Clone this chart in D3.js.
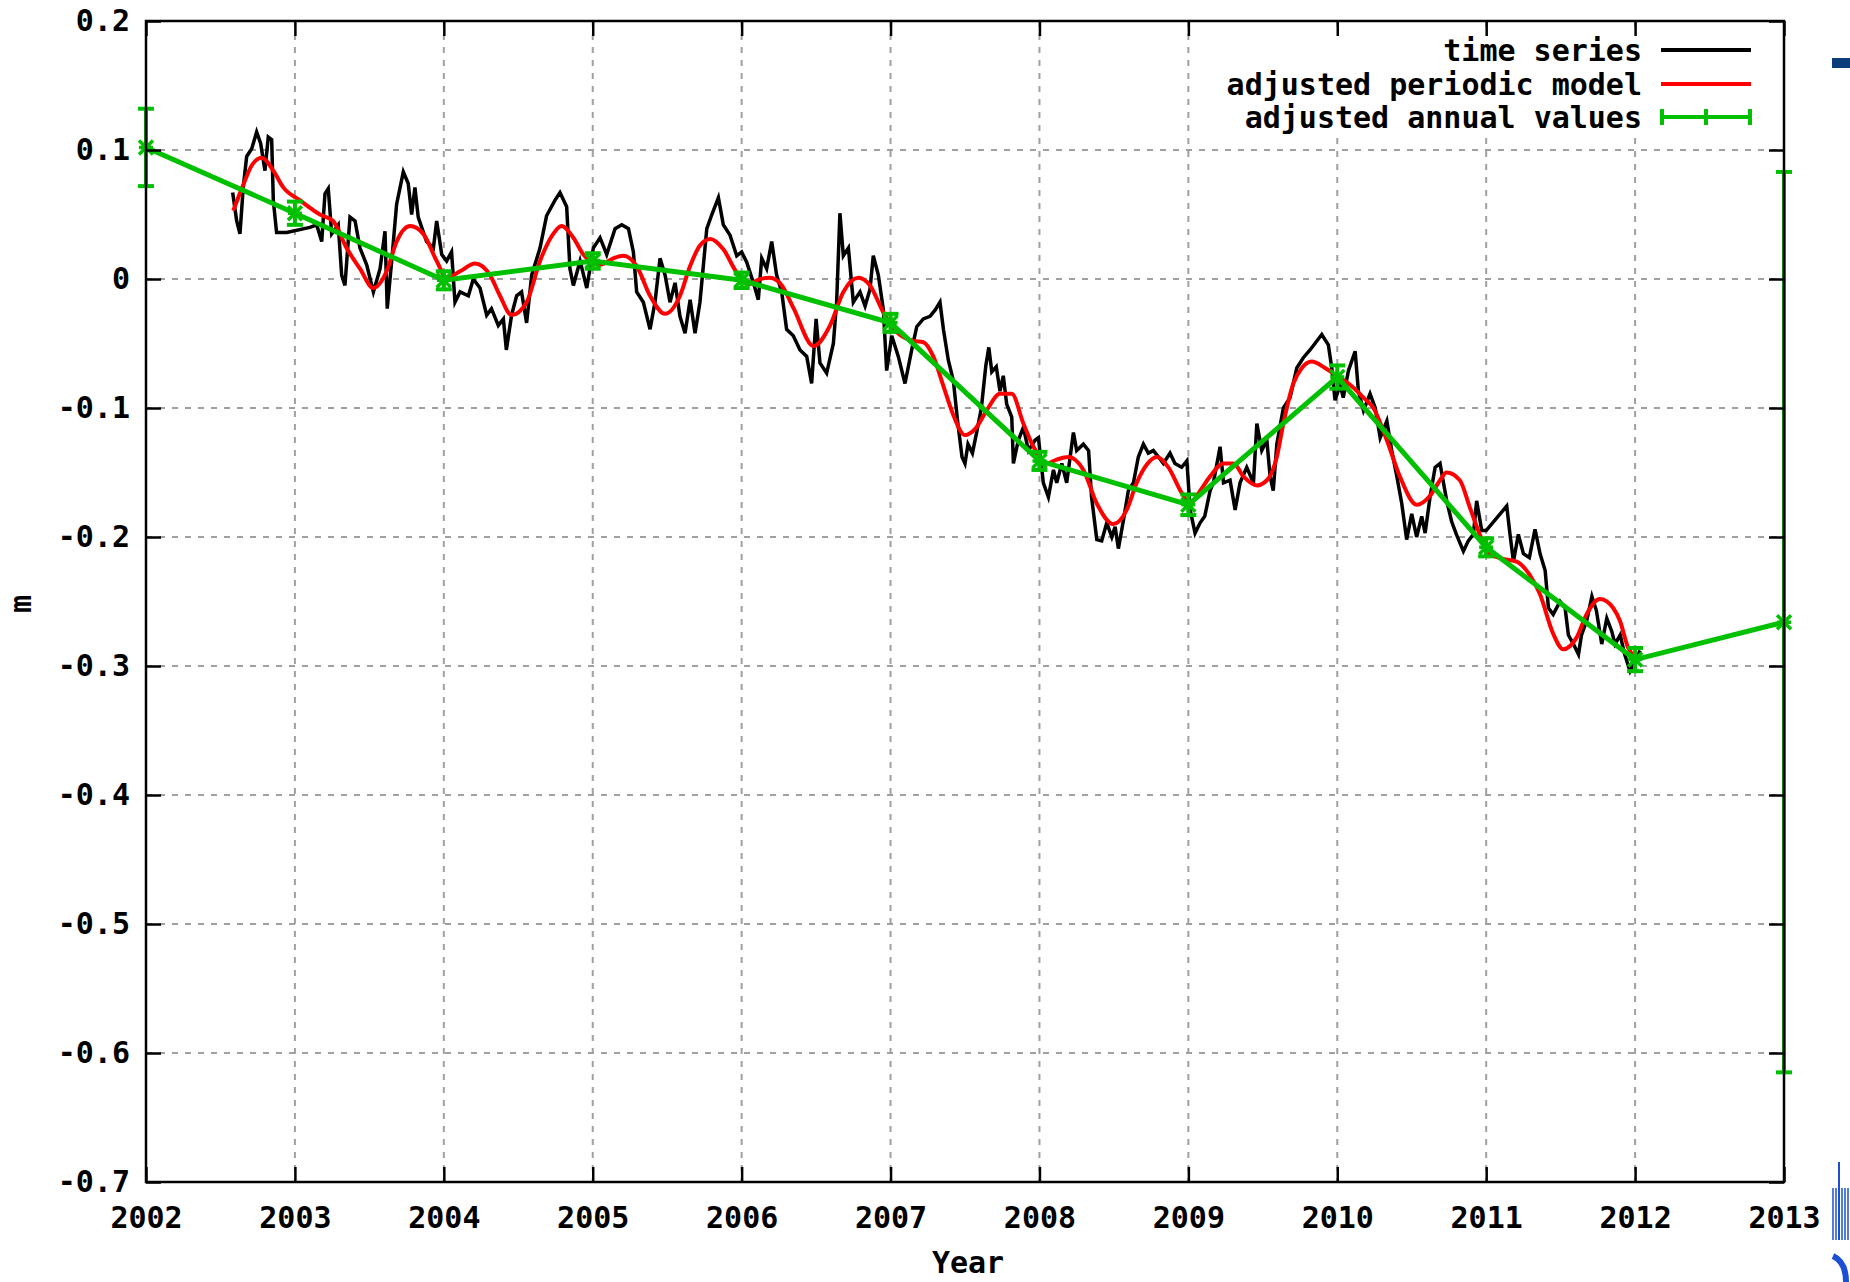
<!DOCTYPE html>
<html>
<head>
<meta charset="utf-8">
<script src="https://cdn.jsdelivr.net/npm/d3@7"></script>
<style>
  html, body { margin: 0; padding: 0; background: #fff; }
  svg { display: block; }
  text { font-family: "DejaVu Sans Mono", "Liberation Mono", monospace; font-weight: bold; font-size: 30px; fill: #000; }
</style>
</head>
<body>
<div id="chart"></div>
<script>
// raw time series [year, m]
const timeSeries = [
  [2002.582, 0.067], [2002.609, 0.045], [2002.631, 0.035], [2002.653, 0.071], [2002.676, 0.095],
  [2002.71, 0.101], [2002.743, 0.114], [2002.77, 0.105], [2002.799, 0.084], [2002.821, 0.110],
  [2002.844, 0.108], [2002.855, 0.061], [2002.877, 0.036], [2002.945, 0.036], [2003.101, 0.040],
  [2003.146, 0.042], [2003.18, 0.029], [2003.202, 0.066], [2003.224, 0.070], [2003.247, 0.035],
  [2003.291, 0.042], [2003.314, 0.003], [2003.336, -0.005], [2003.37, 0.048], [2003.404, 0.045],
  [2003.437, 0.024], [2003.482, 0.011], [2003.527, -0.010], [2003.572, 0.008], [2003.605, 0.037],
  [2003.62, -0.023], [2003.65, 0.014], [2003.683, 0.058], [2003.728, 0.083], [2003.761, 0.074],
  [2003.784, 0.050], [2003.806, 0.071], [2003.828, 0.048], [2003.884, 0.029], [2003.93, 0.024],
  [2003.952, 0.045], [2003.986, 0.019], [2004.019, 0.014], [2004.052, 0.021], [2004.075, -0.018],
  [2004.109, -0.010], [2004.165, -0.013], [2004.198, 0.000], [2004.243, -0.007], [2004.288, -0.028],
  [2004.32, -0.023], [2004.366, -0.036], [2004.4, -0.031], [2004.42, -0.055], [2004.455, -0.028],
  [2004.489, -0.013], [2004.522, -0.010], [2004.556, -0.034], [2004.59, 0.003], [2004.646, 0.024],
  [2004.69, 0.049], [2004.746, 0.061], [2004.78, 0.067], [2004.825, 0.056], [2004.847, 0.008],
  [2004.87, -0.005], [2004.915, 0.014], [2004.96, -0.007], [2005.004, 0.024], [2005.049, 0.032],
  [2005.094, 0.019], [2005.15, 0.039], [2005.195, 0.042], [2005.24, 0.039], [2005.273, 0.021],
  [2005.295, -0.010], [2005.34, -0.018], [2005.385, -0.039], [2005.418, -0.018], [2005.452, 0.016],
  [2005.486, 0.003], [2005.519, -0.018], [2005.553, -0.003], [2005.586, -0.029], [2005.62, -0.042],
  [2005.654, -0.016], [2005.687, -0.042], [2005.72, -0.018], [2005.766, 0.039], [2005.8, 0.050],
  [2005.844, 0.063], [2005.877, 0.042], [2005.922, 0.034], [2005.967, 0.018], [2006.0, 0.021],
  [2006.034, 0.013], [2006.079, -0.003], [2006.112, -0.016], [2006.135, 0.016], [2006.168, 0.008],
  [2006.202, 0.029], [2006.235, 0.003], [2006.269, -0.010], [2006.302, -0.039], [2006.347, -0.044],
  [2006.392, -0.055], [2006.437, -0.060], [2006.47, -0.081], [2006.5, -0.031], [2006.526, -0.065],
  [2006.571, -0.073], [2006.616, -0.050], [2006.638, -0.018], [2006.66, 0.051], [2006.683, 0.018],
  [2006.717, 0.024], [2006.75, -0.018], [2006.795, -0.010], [2006.829, -0.021], [2006.862, -0.008],
  [2006.884, 0.018], [2006.918, 0.003], [2006.952, -0.024], [2006.974, -0.071], [2007.008, -0.044],
  [2007.052, -0.060], [2007.097, -0.081], [2007.142, -0.055], [2007.176, -0.037], [2007.22, -0.031],
  [2007.265, -0.029], [2007.3, -0.024], [2007.332, -0.018], [2007.355, -0.039], [2007.388, -0.063],
  [2007.422, -0.079], [2007.45, -0.110], [2007.48, -0.138], [2007.50, -0.143], [2007.52, -0.128],
  [2007.55, -0.135], [2007.58, -0.118], [2007.61, -0.100], [2007.64, -0.067], [2007.66, -0.053],
  [2007.68, -0.072], [2007.71, -0.068], [2007.735, -0.087], [2007.757, -0.075], [2007.78, -0.097],
  [2007.814, -0.107], [2007.825, -0.143], [2007.858, -0.125], [2007.892, -0.115], [2007.926, -0.133],
  [2007.97, -0.125], [2007.993, -0.123], [2008.026, -0.158], [2008.06, -0.169], [2008.094, -0.148],
  [2008.116, -0.158], [2008.15, -0.143], [2008.183, -0.158], [2008.228, -0.119], [2008.25, -0.133],
  [2008.295, -0.128], [2008.33, -0.133], [2008.35, -0.169], [2008.385, -0.202], [2008.418, -0.203],
  [2008.452, -0.189], [2008.486, -0.200], [2008.508, -0.192], [2008.53, -0.209], [2008.564, -0.187],
  [2008.597, -0.164], [2008.631, -0.158], [2008.664, -0.138], [2008.698, -0.128], [2008.731, -0.135],
  [2008.765, -0.133], [2008.8, -0.138], [2008.832, -0.143], [2008.877, -0.135], [2008.91, -0.143],
  [2008.955, -0.146], [2008.99, -0.141], [2009.012, -0.179], [2009.045, -0.197], [2009.079, -0.189],
  [2009.11, -0.184], [2009.146, -0.164], [2009.168, -0.158], [2009.213, -0.130], [2009.236, -0.158],
  [2009.28, -0.156], [2009.314, -0.179], [2009.347, -0.158], [2009.392, -0.146], [2009.437, -0.158],
  [2009.46, -0.112], [2009.493, -0.133], [2009.527, -0.125], [2009.549, -0.153], [2009.57, -0.164],
  [2009.594, -0.128], [2009.638, -0.100], [2009.683, -0.092], [2009.728, -0.069], [2009.772, -0.061],
  [2009.817, -0.055], [2009.85, -0.050], [2009.896, -0.043], [2009.94, -0.051], [2009.963, -0.069],
  [2009.985, -0.094], [2010.02, -0.082], [2010.04, -0.092], [2010.075, -0.071], [2010.12, -0.056],
  [2010.142, -0.087], [2010.176, -0.102], [2010.22, -0.089], [2010.255, -0.100], [2010.288, -0.123],
  [2010.333, -0.110], [2010.366, -0.133], [2010.4, -0.153], [2010.433, -0.174], [2010.466, -0.202],
  [2010.5, -0.182], [2010.533, -0.200], [2010.567, -0.184], [2010.59, -0.197], [2010.623, -0.169],
  [2010.657, -0.146], [2010.69, -0.143], [2010.735, -0.172], [2010.768, -0.188], [2010.8, -0.198],
  [2010.847, -0.211], [2010.88, -0.203], [2010.914, -0.198], [2010.936, -0.172], [2010.97, -0.195],
  [2011.0, -0.195], [2011.138, -0.176], [2011.16, -0.198], [2011.183, -0.219], [2011.216, -0.198],
  [2011.25, -0.213], [2011.29, -0.216], [2011.328, -0.194], [2011.362, -0.213], [2011.396, -0.226],
  [2011.418, -0.255], [2011.45, -0.260], [2011.496, -0.250], [2011.53, -0.255], [2011.552, -0.276],
  [2011.586, -0.283], [2011.62, -0.291], [2011.64, -0.276], [2011.675, -0.265], [2011.71, -0.246],
  [2011.74, -0.257], [2011.776, -0.283], [2011.81, -0.263], [2011.843, -0.273], [2011.865, -0.283],
  [2011.9, -0.276], [2011.93, -0.291], [2011.966, -0.304], [2012.0, -0.296], [2012.034, -0.288]
];

// adjusted periodic model [year, m]
const periodicModel = [
  [2002.586, 0.053], [2002.65, 0.072], [2002.71, 0.088], [2002.777, 0.094], [2002.855, 0.084],
  [2002.922, 0.071], [2003.034, 0.061], [2003.168, 0.050], [2003.256, 0.045], [2003.347, 0.024],
  [2003.437, 0.008], [2003.526, -0.007], [2003.616, 0.006], [2003.683, 0.029], [2003.773, 0.041],
  [2003.862, 0.035], [2003.952, 0.014], [2004.019, 0.001], [2004.109, 0.006], [2004.21, 0.012],
  [2004.31, 0.003], [2004.377, -0.013], [2004.455, -0.028], [2004.556, -0.018], [2004.646, 0.014],
  [2004.735, 0.035], [2004.79, 0.041], [2004.87, 0.032], [2004.937, 0.019], [2005.049, 0.011],
  [2005.138, 0.016], [2005.205, 0.018], [2005.295, 0.010], [2005.385, -0.013], [2005.486, -0.027],
  [2005.586, -0.013], [2005.654, 0.010], [2005.72, 0.026], [2005.79, 0.031], [2005.877, 0.023],
  [2005.967, 0.005], [2006.045, -0.004], [2006.124, 0.000], [2006.19, 0.001], [2006.27, -0.005],
  [2006.35, -0.023], [2006.483, -0.052], [2006.594, -0.036], [2006.683, -0.010], [2006.784, 0.001],
  [2006.862, -0.005], [2006.952, -0.026], [2007.04, -0.041], [2007.153, -0.048], [2007.22, -0.049],
  [2007.287, -0.060], [2007.355, -0.083], [2007.42, -0.105], [2007.5, -0.121], [2007.57, -0.116],
  [2007.65, -0.101], [2007.735, -0.089], [2007.814, -0.089], [2007.892, -0.112], [2007.96, -0.130],
  [2008.05, -0.143], [2008.116, -0.140], [2008.194, -0.138], [2008.295, -0.148], [2008.385, -0.174],
  [2008.496, -0.190], [2008.586, -0.179], [2008.653, -0.158], [2008.72, -0.144], [2008.788, -0.138],
  [2008.866, -0.146], [2008.956, -0.166], [2009.012, -0.174], [2009.08, -0.164], [2009.146, -0.153],
  [2009.236, -0.143], [2009.303, -0.143], [2009.37, -0.153], [2009.46, -0.160], [2009.527, -0.156],
  [2009.594, -0.138], [2009.638, -0.112], [2009.705, -0.081], [2009.762, -0.069], [2009.829, -0.064],
  [2009.918, -0.069], [2010.008, -0.076], [2010.086, -0.082], [2010.176, -0.092], [2010.243, -0.100],
  [2010.333, -0.125], [2010.42, -0.153], [2010.533, -0.175], [2010.623, -0.168], [2010.69, -0.156],
  [2010.734, -0.150], [2010.823, -0.156], [2010.89, -0.177], [2010.957, -0.198], [2011.024, -0.213],
  [2011.114, -0.217], [2011.204, -0.219], [2011.29, -0.229], [2011.36, -0.244], [2011.45, -0.275],
  [2011.517, -0.287], [2011.607, -0.278], [2011.674, -0.260], [2011.764, -0.248], [2011.853, -0.255],
  [2011.898, -0.265], [2011.954, -0.286], [2011.99, -0.292]
];

// adjusted annual values with errors
const annualYears  = [2002, 2003, 2004, 2005, 2006, 2007, 2008, 2009, 2010, 2011, 2012, 2013];
const annualValues = [0.102, 0.051, -0.001, 0.014, -0.001, -0.034, -0.141, -0.175, -0.076, -0.208, -0.295, -0.266];
const annualErrors = [0.030, 0.009, 0.007, 0.006, 0.006, 0.007, 0.007, 0.008, 0.009, 0.007, 0.009, 0.349];

const xTicks = [2002, 2003, 2004, 2005, 2006, 2007, 2008, 2009, 2010, 2011, 2012, 2013];
const yTicks = [0.2, 0.1, 0, -0.1, -0.2, -0.3, -0.4, -0.5, -0.6, -0.7];
const legendLabels = ["time series", "adjusted periodic model", "adjusted annual values"];
const legendColors = ["#000000", "#ff0000", "#00c000"];

document.addEventListener("DOMContentLoaded", drawChart);

function drawChart() {
    const width = 1850;
    const height = 1282;
    const margin = { top: 21, right: 66, bottom: 100, left: 146 };
    const plotW = width - margin.left - margin.right;
    const plotH = height - margin.top - margin.bottom;

    const root = d3.select("#chart").append("svg")
        .attr("width", width)
        .attr("height", height);

    const svg = root.append("g")
        .attr("transform", `translate(${margin.left},${margin.top})`);

    const x = d3.scaleLinear().domain([2002, 2013]).range([0, plotW]);
    const y = d3.scaleLinear().domain([-0.7, 0.2]).range([plotH, 0]);

    // dashed grid
    const grid = svg.append("g")
        .attr("stroke", "#a0a0a0")
        .attr("stroke-width", 2)
        .attr("stroke-dasharray", "6,7");
    grid.selectAll(".gx").data(xTicks).enter().append("line")
        .attr("x1", d => x(d)).attr("x2", d => x(d))
        .attr("y1", 0).attr("y2", plotH);
    grid.selectAll(".gy").data(yTicks).enter().append("line")
        .attr("x1", 0).attr("x2", plotW)
        .attr("y1", d => y(d)).attr("y2", d => y(d));

    // opaque key box hides the grid behind it
    svg.append("rect")
        .attr("x", 1222 - margin.left).attr("y", 28 - margin.top)
        .attr("width", 550).attr("height", 104)
        .attr("fill", "#fff");

    // time series
    const line = d3.line().x(d => x(d[0])).y(d => y(d[1]));
    svg.append("path")
        .datum(timeSeries)
        .attr("d", line)
        .attr("fill", "none")
        .attr("stroke", legendColors[0])
        .attr("stroke-width", 3.5);

    // periodic model
    svg.append("path")
        .datum(periodicModel)
        .attr("d", d3.line().x(d => x(d[0])).y(d => y(d[1])).curve(d3.curveMonotoneX))
        .attr("fill", "none")
        .attr("stroke", legendColors[1])
        .attr("stroke-width", 4);

    // annual values with error bars
    const annual = annualYears.map((yr, i) => ({ year: yr, value: annualValues[i], err: annualErrors[i] }));
    const green = svg.append("g")
        .attr("stroke", legendColors[2])
        .attr("fill", "none");
    green.append("path")
        .datum(annual)
        .attr("d", d3.line().x(d => x(d.year)).y(d => y(d.value)))
        .attr("stroke-width", 5);
    const cap = 8;
    const bars = green.selectAll(".err").data(annual).enter().append("g")
        .attr("stroke-width", 4);
    bars.append("line")
        .attr("x1", d => x(d.year)).attr("x2", d => x(d.year))
        .attr("y1", d => y(d.value + d.err)).attr("y2", d => y(d.value - d.err));
    bars.append("line")
        .attr("x1", d => x(d.year) - cap).attr("x2", d => x(d.year) + cap)
        .attr("y1", d => y(d.value + d.err)).attr("y2", d => y(d.value + d.err));
    bars.append("line")
        .attr("x1", d => x(d.year) - cap).attr("x2", d => x(d.year) + cap)
        .attr("y1", d => y(d.value - d.err)).attr("y2", d => y(d.value - d.err));
    // point marker (asterisk)
    const pt = 7;
    bars.append("path")
        .attr("stroke-width", 3.5)
        .attr("d", d => {
            const cx = x(d.year), cy = y(d.value);
            return `M${cx - pt},${cy}H${cx + pt}M${cx},${cy - pt}V${cy + pt}` +
                   `M${cx - pt},${cy - pt}L${cx + pt},${cy + pt}M${cx - pt},${cy + pt}L${cx + pt},${cy - pt}`;
        });

    // axes, ticks pointing inward, mirrored on top/right
    const tick = 15;
    const xAxis = svg.append("g")
        .attr("transform", `translate(0,${plotH})`)
        .call(d3.axisBottom(x).tickValues(xTicks).tickFormat(d3.format("d"))
            .tickSize(-tick).tickSizeOuter(0).tickPadding(25));
    const yAxis = svg.append("g")
        .call(d3.axisLeft(y).tickValues(yTicks)
            .tickFormat(d => d === 0 ? "0" : d.toFixed(1))
            .tickSize(-tick).tickSizeOuter(0).tickPadding(16));
    const xTop = svg.append("g")
        .call(d3.axisTop(x).tickValues(xTicks).tickFormat("").tickSize(-tick).tickSizeOuter(0));
    const yRight = svg.append("g")
        .attr("transform", `translate(${plotW},0)`)
        .call(d3.axisRight(y).tickValues(yTicks).tickFormat("").tickSize(-tick).tickSizeOuter(0));

    [xAxis, yAxis, xTop, yRight].forEach(a => {
        a.select(".domain").remove();
        a.selectAll(".tick line").attr("stroke", "#000").attr("stroke-width", 2.5);
        a.selectAll("text")
            .attr("fill", "#000")
            .style("font-family", "'DejaVu Sans Mono', monospace")
            .style("font-weight", "bold")
            .style("font-size", "30px");
    });

    // border
    svg.append("rect")
        .attr("x", 0).attr("y", 0)
        .attr("width", plotW).attr("height", plotH)
        .attr("fill", "none")
        .attr("stroke", "#000")
        .attr("stroke-width", 2.5);

    // axis titles
    root.append("text")
        .attr("x", margin.left + plotW / 2 + 3)
        .attr("y", 1273)
        .attr("text-anchor", "middle")
        .text("Year");
    root.append("text")
        .attr("transform", "translate(31,604) rotate(-90)")
        .attr("text-anchor", "middle")
        .text("m");

    // key
    const key = root.append("g");
    const rowY = [50, 84, 117];
    legendLabels.forEach((label, i) => {
        key.append("text")
            .attr("x", 1642).attr("y", rowY[i])
            .attr("dy", "0.36em")
            .attr("text-anchor", "end")
            .text(label);
        key.append("line")
            .attr("x1", 1661).attr("x2", 1751)
            .attr("y1", rowY[i]).attr("y2", rowY[i])
            .attr("stroke", legendColors[i])
            .attr("stroke-width", 4);
    });
    [1662, 1706, 1750].forEach(kx => {
        key.append("line")
            .attr("x1", kx).attr("x2", kx)
            .attr("y1", rowY[2] - 8).attr("y2", rowY[2] + 8)
            .attr("stroke", legendColors[2])
            .attr("stroke-width", 4);
    });

    // page fragments cut off at the right edge
    root.append("rect")
        .attr("x", 1832).attr("y", 58).attr("width", 18).attr("height", 10)
        .attr("fill", "#0a3d7a");
    const logo = root.append("g").attr("stroke", "#1a4fd6").attr("fill", "none");
    logo.append("line").attr("x1", 1839).attr("x2", 1839).attr("y1", 1162).attr("y2", 1240).attr("stroke-width", 2);
    d3.range(1833, 1850, 3).forEach(lx => {
        logo.append("line").attr("x1", lx).attr("x2", lx)
            .attr("y1", 1188).attr("y2", 1240).attr("stroke-width", 1.5);
    });
    logo.append("path")
        .attr("d", "M1833,1256 Q1846,1262 1846,1282")
        .attr("stroke-width", 6);
}
</script>
</body>
</html>
